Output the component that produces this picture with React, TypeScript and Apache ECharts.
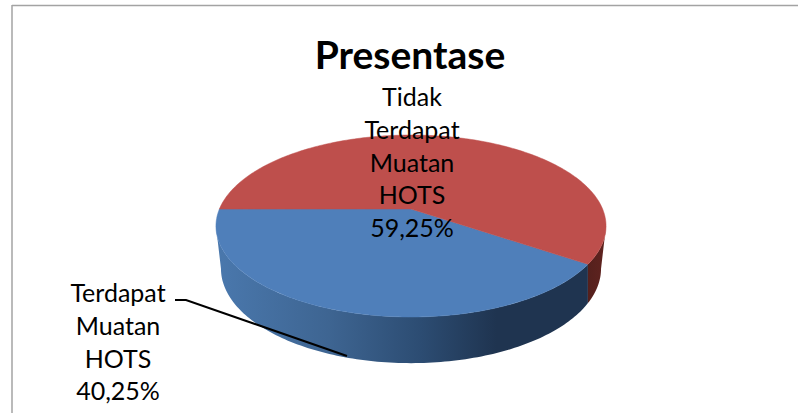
import React, { useEffect, useRef } from "react";
import * as echarts from "echarts";

const titleText = "Presentase";
const categories = ["Terdapat\nMuatan\nHOTS", "Tidak\nTerdapat\nMuatan\nHOTS"];
const shareValues = [40.25, 59.25];
const shareLabels = ["40,25%", "59,25%"];
const topColors = ["#4f7fba", "#be4f4c"];
const FONT = "Lato, Carlito, 'Open Sans', sans-serif";

// Perspective projection of the round pie
const START_DEG = 34.3;
const top = { x: 411, y: 209, a: 191.6, b: 87.8, k: 0.187 };
const bottom = { x: 411, y: 245, a: 184, b: 88.6, k: 0.25 };
// silhouette angles of each projected rim: asin(k) and 180 - asin(k)
const silhouette = (k: number) => (Math.asin(k) * 180) / Math.PI;

function rim(p: typeof top, deg: number): number[] {
  const t = (deg * Math.PI) / 180;
  const u = Math.cos(t);
  const v = Math.sin(t);
  const w = 1 - p.k * v;
  return [p.x + (p.a * u) / w, p.y + (p.b * v) / w];
}
function arc(p: typeof top, from: number, to: number): number[][] {
  const pts: number[][] = [];
  const n = Math.max(2, Math.ceil(Math.abs(to - from)));
  for (let i = 0; i <= n; i++) pts.push(rim(p, from + ((to - from) * i) / n));
  return pts;
}
function clippedArc(p: typeof top, from: number, to: number, turn: number): number[][] | null {
  const s = silhouette(p.k);
  const a = Math.max(from, s + turn);
  const b = Math.min(to, 180 - s + turn);
  return b > a ? arc(p, a, b) : null;
}

const blueSide = new echarts.graphic.LinearGradient(216, 0, 590, 0, [
  { offset: 0, color: "#4a78ad" },
  { offset: 0.3, color: "#3e6592" },
  { offset: 0.55, color: "#2c4c72" },
  { offset: 0.75, color: "#1f3450" },
  { offset: 1, color: "#1f3450" },
], true);
const redSide = new echarts.graphic.LinearGradient(580, 0, 606, 0, [
  { offset: 0, color: "#4f1f1c" },
  { offset: 1, color: "#60231f" },
], true);

export default function App() {
  const ref = useRef<HTMLDivElement>(null);
  useEffect(() => {
    document.body.style.margin = "0";
    const chart = echarts.init(ref.current!, undefined, { renderer: "svg" });
    const total = shareValues.reduce((s, v) => s + v, 0);
    const renderItem = (params: any, api: any) => {
      const i = params.dataIndex;
      const before = shareValues.slice(0, i).reduce((s, v) => s + v, 0);
      const from = START_DEG + (before / total) * 360;
      const to = from + (api.value(0) / total) * 360;
      const children: any[] = [];
      [0, 360].forEach((turn) => {
        const upper = clippedArc(top, from, to, turn);
        const lower = clippedArc(bottom, from, to, turn);
        if (upper && lower) {
          children.push({
            type: "polygon",
            shape: { points: [...upper, ...lower.reverse()] },
            style: { fill: i === 0 ? blueSide : redSide },
          });
        }
      });
      children.push({
        type: "polygon",
        shape: { points: [[top.x, top.y], ...arc(top, from, to)] },
        style: { fill: topColors[i], stroke: topColors[i], lineWidth: 0.5 },
      });
      return { type: "group", children };
    };
    const labelText = (i: number) => `${categories[i]}\n${shareLabels[i]}`;
    const labelStyle = {
      fontFamily: FONT,
      fontSize: 25,
      lineHeight: 32.7,
      fill: "#000",
      align: "center",
      verticalAlign: "top",
    };
    chart.setOption({
      animation: false,
      backgroundColor: "#ffffff",
      title: {
        text: titleText,
        left: 405,
        top: 29,
        textAlign: "center",
        textStyle: { fontFamily: FONT, fontWeight: "bold", fontSize: 39, color: "#000" },
      },
      series: [
        {
          type: "custom",
          coordinateSystem: "none",
          silent: true,
          z: 1,
          data: shareValues.map((v) => [v]),
          renderItem,
        },
      ],
      graphic: [
        { type: "line", z: 5, shape: { x1: 12, y1: 5.5, x2: 798, y2: 5.5 }, style: { stroke: "#a3a3a3", lineWidth: 1.5 } },
        { type: "line", z: 5, shape: { x1: 12, y1: 5, x2: 12, y2: 413 }, style: { stroke: "#a3a3a3", lineWidth: 1.5 } },
        { type: "polyline", z: 6, shape: { points: [[175, 300], [186, 300], [347, 356]] }, style: { stroke: "#000", lineWidth: 2, fill: null } },
        { type: "text", z: 7, x: 118, y: 276, style: { text: labelText(0), ...labelStyle } },
        { type: "text", z: 7, x: 412, y: 80, style: { text: labelText(1), ...labelStyle } },
      ],
    });
    return () => chart.dispose();
  }, []);
  return <div ref={ref} style={{ width: 798, height: 413 }} />;
}
